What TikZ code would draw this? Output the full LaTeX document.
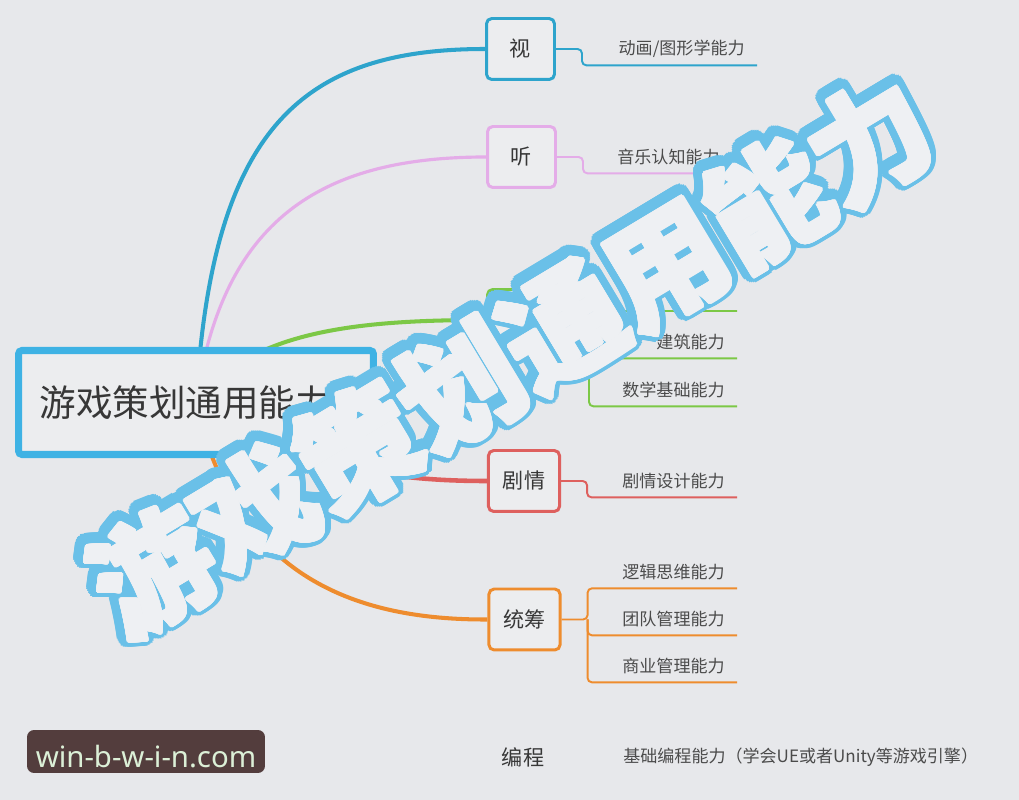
\documentclass[tikz,border=0pt]{standalone}
\usepackage{fontspec}
\usepackage[copies]{contour}
\usetikzlibrary{backgrounds}
\newfontfamily\cjk{Noto Sans CJK SC}
\newfontfamily\latin{Noto Sans}
\definecolor{bg}{RGB}{231,232,235}
\definecolor{boxbg}{RGB}{236,237,239}
\definecolor{ink}{RGB}{55,55,55}
\definecolor{leafink}{RGB}{75,75,75}
\definecolor{rootblue}{RGB}{62,178,228}
\definecolor{cblue}{RGB}{46,164,204}
\definecolor{cpink}{RGB}{228,172,232}
\definecolor{cgreen}{RGB}{124,200,70}
\definecolor{cred}{RGB}{222,96,94}
\definecolor{corange}{RGB}{238,140,46}
\definecolor{stampblue}{RGB}{106,192,232}
\definecolor{stampwhite}{RGB}{238,240,243}
\definecolor{sitebg}{RGB}{83,61,61}
\definecolor{sitefg}{RGB}{220,240,215}
\contournumber{32}

\begin{document}
\begin{tikzpicture}[
    x=0.02cm, y=-0.02cm,
    root/.style={draw=rootblue, line width=4pt, fill=boxbg, rounded corners=2pt,
                 minimum width=7.1cm, minimum height=2.08cm, inner xsep=0.42cm,
                 text width=6.26cm, align=left, text=ink,
                 font=\cjk\fontsize{20.8pt}{24pt}\selectfont},
    topic/.style={draw=#1, line width=1.7pt, fill=boxbg, rounded corners=3pt,
                  minimum width=1.36cm, minimum height=1.22cm, inner xsep=0.29cm,
                  text=ink, font=\cjk\fontsize{12pt}{14pt}\selectfont},
    leaf/.style={inner sep=0pt, minimum height=0.64cm, anchor=east, text=leafink,
                 font=\cjk\fontsize{9.7pt}{11pt}\selectfont},
    curve/.style={draw=#1, line width=2.3pt},
    link/.style={draw=#1, line width=1.1pt, rounded corners=2.5pt},
    stamp/.style={rotate=31, inner sep=0pt,
                  font=\cjk\bfseries\fontsize{68pt}{70pt}\selectfont},
    site/.style={fill=sitebg, text=sitefg, rounded corners=4pt, inner sep=0pt,
                 minimum width=4.76cm, text height=0.76cm, text depth=0.1cm,
                 font=\latin\fontsize{16.7pt}{18pt}\selectfont},
]
\useasboundingbox (0,0) rectangle (1019,800);
% --- topics -------------------------------------------------------------------
\node[root] (root) at (196,402.5) {游戏策划通用能力};
\node[topic=cblue]   (shi)  at (520.5,49)  {视};
\node[topic=cpink]   (ting) at (521.5,157) {听};
\node[topic=cgreen]  (kong) at (521.5,320) {};
\node[topic=cred]    (ju)   at (524,481)   {剧情};
\node[topic=corange] (tong) at (524.5,619.5) {统筹};
\node[topic=bg, draw=none, fill=none] (bian) at (523,757) {编程};
% --- branches from the root ---------------------------------------------------
\begin{scope}[on background layer]
  \fill[bg] (0,0) rectangle (1019,800);
  \draw[curve=cblue] (root.center) .. controls (212,130) and (300,49) .. (shi.west);
  \draw[curve=cpink, line width=1.8pt] (root.center) .. controls (222,220) and (320,157) .. (ting.west);
  \draw[curve=cgreen] (root.center) .. controls (250,330) and (360,320) .. (kong.west);
  \draw[curve=cred, line width=2.6pt] (root.center) .. controls (300,470) and (400,481) .. (ju.west);
  \draw[curve=corange] (root.center) .. controls (235,580) and (360,620) .. (tong.west);
\end{scope}
% --- leaves -------------------------------------------------------------------
\node[leaf] (shiA)  at (745,49)  {动画/图形学能力};
\node[leaf] (tingA) at (720,157) {音乐认知能力};
\coordinate (kongA) at (737,311);
\node[leaf] (kongB) at (725,342) {建筑能力};
\node[leaf] (kongC) at (725,390) {数学基础能力};
\node[leaf] (juA)   at (725,481) {剧情设计能力};
\node[leaf] (tongA) at (725,572) {逻辑思维能力};
\node[leaf] (tongB) at (725,619) {团队管理能力};
\node[leaf] (tongC) at (725,666) {商业管理能力};
\node[leaf, anchor=west] (bianA) at (623,757) {基础编程能力（学会UE或者Unity等游戏引擎）};
\draw[link=cblue]  (shi.east) -- ++(26,0) |- ([xshift=0.24cm]shiA.south east);
\draw[link=cpink]  (ting.east) -- ++(26,0) |- ([xshift=0.24cm]tingA.south east);
\draw[link=cgreen] (kong.east) -- ++(32,0) |- (kongA);
\draw[link=cgreen] (kong.east) ++(32,0) |- ([xshift=0.24cm]kongB.south east);
\draw[link=cgreen] (kong.east) ++(32,0) |- ([xshift=0.24cm]kongC.south east);
\draw[link=cred]   (ju.east) -- ++(26,0) |- ([xshift=0.24cm]juA.south east);
\draw[link=corange] (tong.east) -- ++(26,0) |- ([xshift=0.24cm]tongA.south east);
\draw[link=corange] (tong.east) ++(26,0) |- ([xshift=0.24cm]tongB.south east);
\draw[link=corange] (tong.east) ++(26,0) |- ([xshift=0.24cm]tongC.south east);
% --- overlay title and site mark ---------------------------------------------
\node[stamp, text=stampblue] (stampA) at (512,357)
  {\contourlength{5.5pt}\contour{stampblue}{游戏策划通用能力}};
\node[stamp, text=stampwhite] (stampB) at (512,357)
  {\contourlength{1.1pt}\contour{stampwhite}{游戏策划通用能力}};
\node[site] (site) at (146,751.5) {win-b-w-i-n.com};
\end{tikzpicture}
\end{document}
